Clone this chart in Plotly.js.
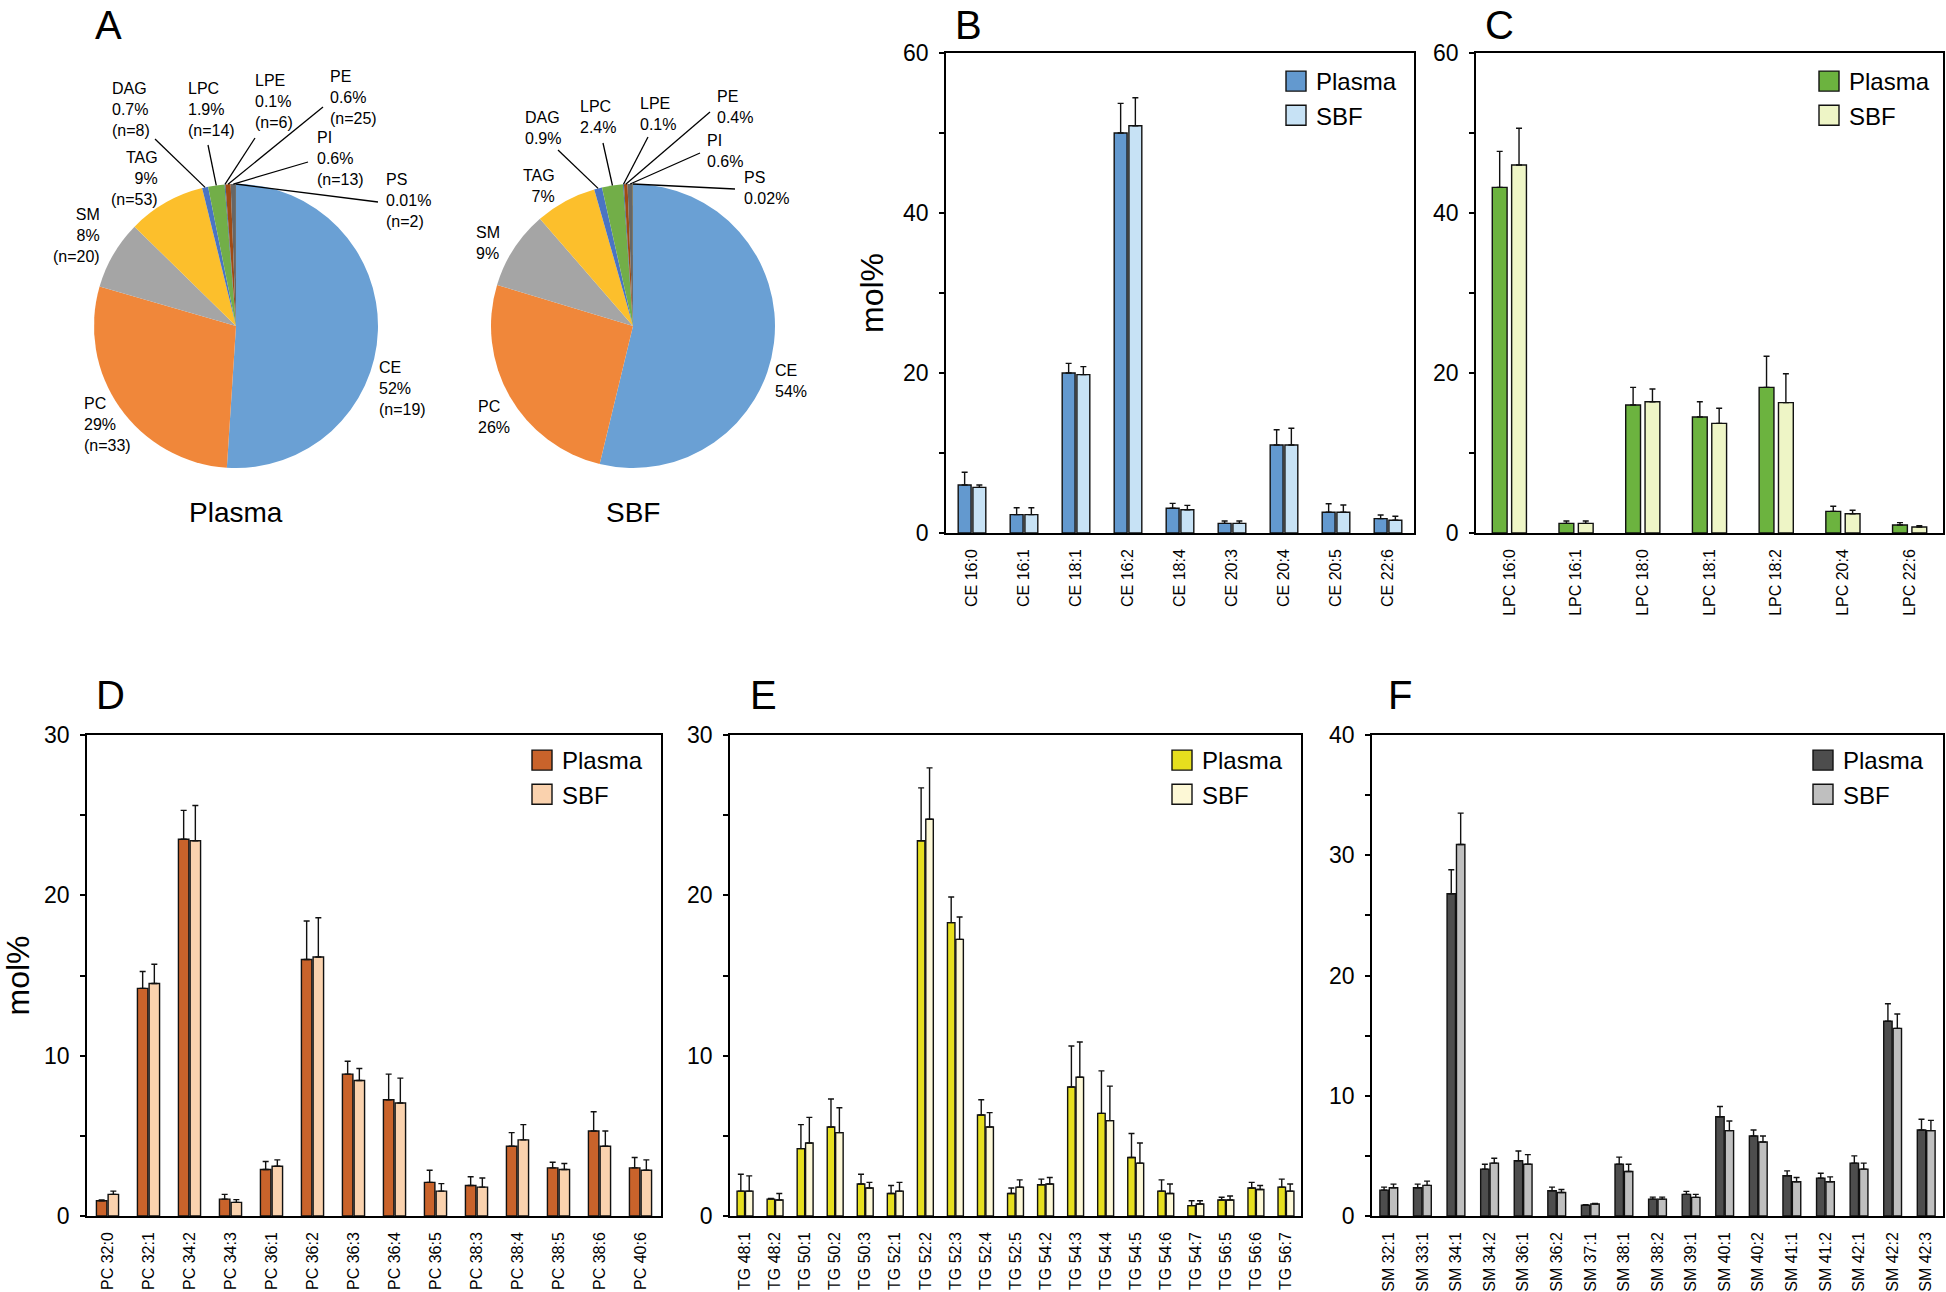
<!DOCTYPE html>
<html><head><meta charset="utf-8">
<script src="https://cdn.plot.ly/plotly-3.0.1.min.js"></script>
<style>
html,body{margin:0;padding:0;background:#fff;}
#chart{width:1946px;height:1292px;}
</style></head><body><div id="chart"></div>
<script>
// ---------- Panel A: lipid class composition (pie) ----------
const pieClasses = ['CE','PC','SM','TAG','DAG','LPC','LPE','PE','PI','PS'];
const plasmaPct  = [52, 29, 8, 9, 0.7, 1.9, 0.1, 0.6, 0.6, 0.01];
const plasmaN    = [19, 33, 20, 53, 8, 14, 6, 25, 13, 2];
const sbfPct     = [54, 26, 9, 7, 0.9, 2.4, 0.1, 0.4, 0.6, 0.02];
const pieColors  = ['#6aa0d4','#f0873a','#a5a5a5','#fcbf2c','#4a74c3','#72ae48','#2a5f95','#a04a14','#666666','#997300'];
const pieTitles  = ['Plasma','SBF'];

// ---------- Panel B: CE species ----------
const ceSpecies   = ['CE 16:0','CE 16:1','CE 18:1','CE 16:2','CE 18:4','CE 20:3','CE 20:4','CE 20:5','CE 22:6'];
const cePlasma    = [6.0, 2.3, 20.0, 50.0, 3.1, 1.2, 11.0, 2.6, 1.8];
const cePlasmaErr = [1.6, 0.85, 1.2, 3.7, 0.6, 0.3, 1.9, 1.05, 0.45];
const ceSbf       = [5.7, 2.3, 19.8, 50.9, 2.9, 1.2, 11.0, 2.6, 1.6];
const ceSbfErr    = [0.3, 0.85, 1.0, 3.5, 0.55, 0.3, 2.1, 0.9, 0.5];

// ---------- Panel C: LPC species ----------
const lpcSpecies   = ['LPC 16:0','LPC 16:1','LPC 18:0','LPC 18:1','LPC 18:2','LPC 20:4','LPC 22:6'];
const lpcPlasma    = [43.2, 1.2, 16.0, 14.5, 18.2, 2.7, 1.0];
const lpcPlasmaErr = [4.5, 0.3, 2.2, 1.9, 3.9, 0.65, 0.3];
const lpcSbf       = [46.0, 1.2, 16.4, 13.7, 16.3, 2.4, 0.75];
const lpcSbfErr    = [4.6, 0.3, 1.6, 1.9, 3.6, 0.45, 0.15];

// ---------- Panel D: PC species ----------
const pcSpecies   = ['PC 32:0','PC 32:1','PC 34:2','PC 34:3','PC 36:1','PC 36:2','PC 36:3','PC 36:4','PC 36:5','PC 38:3','PC 38:4','PC 38:5','PC 38:6','PC 40:6'];
const pcPlasma    = [0.95, 14.2, 23.5, 1.05, 2.9, 16.0, 8.85, 7.25, 2.1, 1.9, 4.35, 3.0, 5.3, 3.0];
const pcPlasmaErr = [0.05, 1.05, 1.8, 0.3, 0.5, 2.4, 0.8, 1.6, 0.75, 0.55, 0.85, 0.35, 1.2, 0.65];
const pcSbf       = [1.35, 14.5, 23.4, 0.85, 3.1, 16.15, 8.45, 7.05, 1.55, 1.8, 4.75, 2.9, 4.35, 2.85];
const pcSbfErr    = [0.2, 1.2, 2.2, 0.17, 0.4, 2.45, 0.75, 1.55, 0.47, 0.57, 0.95, 0.37, 0.95, 0.65];

// ---------- Panel E: TG species ----------
const tgSpecies   = ['TG 48:1','TG 48:2','TG 50:1','TG 50:2','TG 50:3','TG 52:1','TG 52:2','TG 52:3','TG 52:4','TG 52:5','TG 54:2','TG 54:3','TG 54:4','TG 54:5','TG 54:6','TG 54:7','TG 56:5','TG 56:6','TG 56:7'];
const tgPlasma    = [1.55, 1.05, 4.2, 5.55, 2.0, 1.4, 23.4, 18.3, 6.3, 1.4, 1.95, 8.05, 6.4, 3.65, 1.55, 0.65, 1.0, 1.75, 1.8];
const tgPlasmaErr = [1.05, 0.05, 1.5, 1.75, 0.6, 0.5, 3.3, 1.6, 0.95, 0.35, 0.35, 2.55, 2.65, 1.5, 0.7, 0.3, 0.17, 0.35, 0.5];
const tgSbf       = [1.55, 1.0, 4.55, 5.2, 1.75, 1.55, 24.75, 17.25, 5.55, 1.8, 2.0, 8.65, 5.95, 3.3, 1.4, 0.75, 1.0, 1.65, 1.55];
const tgSbfErr    = [0.95, 0.4, 1.6, 1.55, 0.35, 0.55, 3.2, 1.4, 0.9, 0.45, 0.4, 2.2, 2.15, 1.25, 0.6, 0.2, 0.25, 0.25, 0.45];

// ---------- Panel F: SM species ----------
const smSpecies   = ['SM 32:1','SM 33:1','SM 34:1','SM 34:2','SM 36:1','SM 36:2','SM 37:1','SM 38:1','SM 38:2','SM 39:1','SM 40:1','SM 40:2','SM 41:1','SM 41:2','SM 42:1','SM 42:2','SM 42:3'];
const smPlasma    = [2.15, 2.35, 26.8, 3.9, 4.6, 2.1, 0.9, 4.3, 1.4, 1.8, 8.25, 6.65, 3.35, 3.15, 4.4, 16.2, 7.15];
const smPlasmaErr = [0.25, 0.3, 2.0, 0.4, 0.8, 0.3, 0.05, 0.6, 0.17, 0.25, 0.85, 0.5, 0.4, 0.4, 0.6, 1.45, 0.9];
const smSbf       = [2.35, 2.55, 30.9, 4.4, 4.3, 1.95, 1.0, 3.7, 1.4, 1.55, 7.1, 6.15, 2.85, 2.85, 3.9, 15.6, 7.1];
const smSbfErr    = [0.3, 0.35, 2.6, 0.4, 0.8, 0.25, 0.05, 0.6, 0.17, 0.25, 0.8, 0.5, 0.35, 0.4, 0.5, 1.2, 0.85];

const seriesNames = ['Plasma','SBF'];
const panelLetters = ['A','B','C','D','E','F'];
const yTitle = 'mol%';

// ================= layout helpers (positions in px of the 1946x1292 page) =================
const W = 1946, H = 1292;
const FONT = 'Liberation Sans, Arial, Helvetica, sans-serif';
const px = p => p / W;
const py = p => 1 - p / H;

const pies = [
  {cx: 236, cy: 326, r: 142, values: plasmaPct, n: plasmaN, titleY: 513,
   // [x, blockCenterY, anchor, leaderStartX, leaderStartY]
   labels: [[378,388,'left'],[83,424,'left'],[101,235,'right'],[159,178,'right'],
            [111,110,'left',155,139],[187,110,'left',208,145],[254,101,'left',255,138],
            [329,98,'left',323,107],[316,159,'left',308,162],[385,200,'left',378,202]]},
  {cx: 633, cy: 326, r: 142, values: sbfPct, n: null, titleY: 513,
   labels: [[774,381,'left'],[477,417,'left'],[475,243,'left'],[556,186,'right'],
            [524,128,'left',558,150],[579,117,'left',603,143],[639,114,'left',648,137],
            [716,107,'left',710,112],[706,151,'left',700,153],[743,188,'left',735,189]]}
];

const panels = [
  {cats: ceSpecies,  pv: cePlasma,  pe: cePlasmaErr,  sv: ceSbf,  se: ceSbfErr,  box: [946,1414,53,533],  yr: 60, dt: 20, mdt: 10,
   colors: ['#6399cf','#c7e2f5'], w: 0.248, g: 0.035, leg: [1285,81], title: true, standoff: 10},
  {cats: lpcSpecies, pv: lpcPlasma, pe: lpcPlasmaErr, sv: lpcSbf, se: lpcSbfErr, box: [1476,1943,53,533], yr: 60, dt: 20, mdt: 10,
   colors: ['#6cb33f','#eef5c6'], w: 0.222, g: 0.068, leg: [1818,81], title: false},
  {cats: pcSpecies,  pv: pcPlasma,  pe: pcPlasmaErr,  sv: pcSbf,  se: pcSbfErr,  box: [87,661,735,1216],  yr: 30, dt: 10, mdt: 5,
   colors: ['#c9632b','#fad2ae'], w: 0.255, g: 0.03, leg: [531,760], title: true, standoff: 19},
  {cats: tgSpecies,  pv: tgPlasma,  pe: tgPlasmaErr,  sv: tgSbf,  se: tgSbfErr,  box: [730,1301,735,1216], yr: 30, dt: 10, mdt: 5,
   colors: ['#e6df1e','#fdf8d6'], w: 0.25, g: 0.03, leg: [1171,760], title: false},
  {cats: smSpecies,  pv: smPlasma,  pe: smPlasmaErr,  sv: smSbf,  se: smSbfErr,  box: [1372,1943,735,1216], yr: 40, dt: 10, mdt: 5,
   colors: ['#4d4d4d','#bfbfbf'], w: 0.25, g: 0.03, leg: [1812,760], title: false}
];

const data = [];
const annotations = [];
const shapes = [];
const layout = {
  width: W, height: H, margin: {l: 0, r: 0, t: 0, b: 0},
  paper_bgcolor: '#fff', plot_bgcolor: '#fff',
  font: {family: FONT, color: '#000'},
  barmode: 'overlay', showlegend: true
};

// ---- pies ----
pies.forEach((p, k) => {
  data.push({
    type: 'pie', labels: pieClasses, values: p.values, sort: false, direction: 'clockwise', rotation: 0,
    textinfo: 'none', hoverinfo: 'label+percent', showlegend: false,
    marker: {colors: pieColors, line: {width: 0}},
    domain: {x: [px(p.cx - p.r), px(p.cx + p.r)], y: [py(p.cy + p.r), py(p.cy - p.r)]}
  });
  const total = p.values.reduce((a, b) => a + b, 0);
  let cum = 0;
  p.values.forEach((v, i) => {
    const mid = (cum + v / 2) / total * 2 * Math.PI;
    cum += v;
    const lp = p.labels[i];
    const lines = [pieClasses[i], v + '%'];
    if (p.n) lines.push('(n=' + p.n[i] + ')');
    annotations.push({
      xref: 'paper', yref: 'paper', x: px(lp[0]), y: py(lp[1]),
      xanchor: lp[2], yanchor: 'middle', align: lp[2], showarrow: false, text: lines.join('<br>'),
      borderpad: 0, font: {size: 16, family: FONT, color: '#000'}
    });
    if (lp.length > 3) {
      const tx = p.cx + p.r * Math.sin(mid), ty = p.cy - p.r * Math.cos(mid);
      shapes.push({type: 'line', xref: 'paper', yref: 'paper',
        x0: px(lp[3]), y0: py(lp[4]), x1: px(tx), y1: py(ty), line: {color: '#000', width: 1.3}});
    }
  });
  annotations.push({xref: 'paper', yref: 'paper', x: px(p.cx), y: py(p.titleY), xanchor: 'center', yanchor: 'middle',
    showarrow: false, text: pieTitles[k], font: {size: 28, family: FONT, color: '#000'}});
});

// ---- bar panels ----
panels.forEach((P, k) => {
  const n = k + 1;
  const xa = n === 1 ? 'x' : 'x' + n, ya = n === 1 ? 'y' : 'y' + n;
  const lg = n === 1 ? 'legend' : 'legend' + n;
  const series = [[P.pv, P.pe], [P.sv, P.se]];
  series.forEach((s, j) => {
    data.push({
      type: 'bar', name: seriesNames[j], x: P.cats, y: s[0], xaxis: xa, yaxis: ya, legend: lg,
      width: P.w, offset: j === 0 ? -(P.w + P.g / 2) : P.g / 2,
      marker: {color: P.colors[j], line: {color: '#111', width: 1.4}},
      error_y: {type: 'data', symmetric: false, array: s[1], arrayminus: s[1].map(() => 0),
        color: '#111', thickness: 1.4, width: 3}
    });
  });
  const b = P.box;
  layout[n === 1 ? 'xaxis' : 'xaxis' + n] = {
    domain: [px(b[0]), px(b[1])], anchor: ya, type: 'category', range: [-0.5, P.cats.length - 0.5],
    showline: true, mirror: true, linecolor: '#000', linewidth: 1.5, ticks: '', tickangle: -90,
    tickfont: {size: 16, family: FONT, color: '#000'}, ticklabelstandoff: 8, showgrid: false, fixedrange: true
  };
  layout[n === 1 ? 'yaxis' : 'yaxis' + n] = {
    domain: [py(b[3]), py(b[2])], anchor: xa, range: [0, P.yr], tick0: 0, dtick: P.dt,
    ticks: 'outside', ticklen: 5, tickwidth: 1.5, tickcolor: '#000',
    minor: {dtick: P.mdt, ticks: 'outside', ticklen: 5, tickwidth: 1.5, tickcolor: '#000'},
    showline: true, mirror: true, linecolor: '#000', linewidth: 1.5, showgrid: false, zeroline: false,
    tickfont: {size: 23, family: FONT, color: '#000'}, ticklabelstandoff: 6, fixedrange: true,
    title: P.title ? {text: yTitle, font: {size: 32, family: FONT, color: '#000'}, standoff: P.standoff} : {text: ''}
  };
  layout[lg] = {
    x: px(P.leg[0] - 9), y: py(P.leg[1] - 22), xanchor: 'left', yanchor: 'top',
    bgcolor: 'rgba(0,0,0,0)', borderwidth: 0, font: {size: 24, family: FONT, color: '#000'},
    tracegroupgap: 0, itemclick: false, itemdoubleclick: false
  };
});

// ---- panel letters ----
const letterPos = [[108,25],[968,25],[1499,25],[110,695],[763,695],[1400,695]];
panelLetters.forEach((L, i) => annotations.push({
  xref: 'paper', yref: 'paper', x: px(letterPos[i][0]), y: py(letterPos[i][1]), xanchor: 'center', yanchor: 'middle',
  showarrow: false, text: L, font: {size: 40, family: FONT, color: '#000'}
}));

layout.annotations = annotations;
layout.shapes = shapes;

Plotly.newPlot('chart', data, layout, {displayModeBar: false, responsive: false}).then(gd => {
  // enlarge the legend swatches to the reference's square size
  gd.querySelectorAll('.legendpoints path').forEach(el => el.setAttribute('d', 'M10,10H-10V-10H10Z'));
});
</script></body></html>
